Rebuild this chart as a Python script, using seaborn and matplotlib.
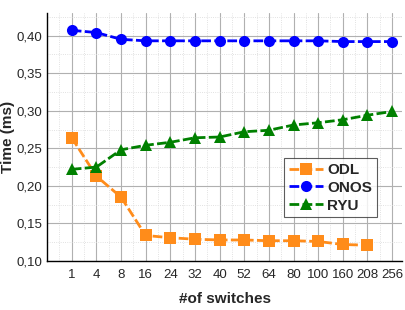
import numpy as np
import pandas as pd
import seaborn as sns
import matplotlib.pyplot as plt
from matplotlib.ticker import MultipleLocator, FuncFormatter

switches = ["1", "4", "8", "16", "24", "32", "40", "52", "64", "80", "100", "160", "208", "256"]
odl = [0.264, 0.213, 0.185, 0.134, 0.131, 0.129, 0.128, 0.128, 0.127, 0.127, 0.126, 0.122, 0.121, np.nan]
onos = [0.407, 0.404, 0.395, 0.393, 0.393, 0.393, 0.393, 0.393, 0.393, 0.393, 0.393, 0.392, 0.392, 0.392]
ryu = [0.222, 0.225, 0.248, 0.254, 0.258, 0.264, 0.265, 0.272, 0.274, 0.281, 0.284, 0.288, 0.294, 0.299]

colors = {"ODL": "#FF8C1A", "ONOS": "#0000FF", "RYU": "#008000"}
markers = {"ODL": "s", "ONOS": "o", "RYU": "^"}

df = pd.DataFrame({"switches": switches * 3,
                   "time": odl + onos + ryu,
                   "controller": ["ODL"] * 14 + ["ONOS"] * 14 + ["RYU"] * 14})

sns.set_style("white")
plt.rcParams['font.family'] = ['Liberation Sans', 'DejaVu Sans']

fig = plt.figure(figsize=(4.06, 3.10), dpi=100)
ax = fig.add_axes([0.116, 0.158, 0.874, 0.80])

sns.lineplot(data=df, x="switches", y="time", hue="controller", style="controller",
             palette=colors, markers=markers, dashes={k: (3.5, 1.2) for k in colors},
             markersize=8, markeredgewidth=0, linewidth=2, sort=False, ax=ax)

ax.set_xlim(-1, 13.4)
ax.set_ylim(0.10, 0.43)
ax.yaxis.set_major_locator(MultipleLocator(0.05))
ax.yaxis.set_minor_locator(MultipleLocator(0.025))
ax.xaxis.set_minor_locator(MultipleLocator(0.5))
ax.yaxis.set_major_formatter(FuncFormatter(lambda v, p: f"{v:.2f}".replace(".", ",")))
ax.grid(which="major", color="#b0b0b0", linewidth=0.8)
ax.grid(which="minor", color="#d8d8d8", linewidth=0.6, linestyle=":")
for s in ["top", "right"]:
    ax.spines[s].set_visible(False)
for s in ["left", "bottom"]:
    ax.spines[s].set_color("black")
    ax.spines[s].set_linewidth(1)
ax.tick_params(axis="both", which="major", direction="in", length=4, labelsize=9.5, color="black")
ax.tick_params(axis="both", which="minor", direction="in", length=2, color="black")
ax.tick_params(axis="x", pad=6)

ax.set_xlabel("#of switches", fontsize=11, fontweight="bold", labelpad=8)
ax.set_ylabel("Time (ms)", fontsize=11, fontweight="bold", labelpad=1)

leg = ax.legend(loc="upper right", bbox_to_anchor=(0.95, 0.445), frameon=True, fancybox=False,
                edgecolor="#333333", prop={"weight": "bold", "size": 11},
                handlelength=2.2, handletextpad=0.3, borderpad=0.3, labelspacing=0.25)
leg.get_frame().set_linewidth(0.8)

fig.savefig("out.png", dpi=100)
